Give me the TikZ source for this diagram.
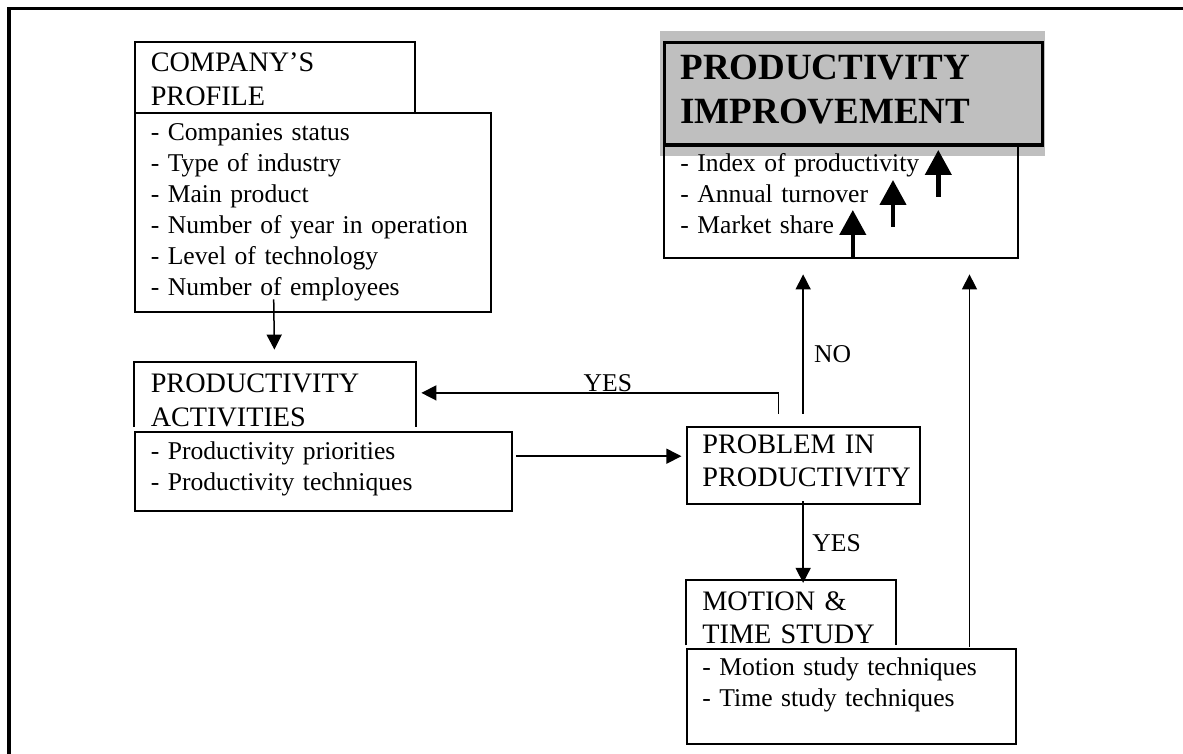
\documentclass[tikz,border=0pt]{standalone}
\usepackage{fontspec}
\setmainfont{Liberation Serif}
\usetikzlibrary{arrows.meta,fit,calc}

\tikzset{
  box/.style={draw, line width=1.1pt, inner sep=0pt, fit={#1}},
  area/.style={inner sep=0pt, fit={#1}},
  head/.style={anchor=base west, inner sep=0pt, align=left, text width=250pt,
    font=\fontsize{14.1}{16.7}\selectfont},
  list/.style={anchor=base west, inner sep=0pt, align=left, text width=250pt,
    font=\fontsize{12.8}{15.5}\selectfont},
  goal/.style={anchor=base west, inner sep=0pt, align=left, text width=250pt,
    font=\fontsize{18.5}{22.35}\selectfont\bfseries},
  arr/.style={-{Triangle[length=7.5pt,width=7.5pt]}, line width=0.75pt},
  bigarr/.style={-{Triangle[length=12.5pt,width=13pt]}, line width=2.2pt}
}

\begin{document}
\begin{tikzpicture}[x=0.5pt,y=-0.5pt]
  \useasboundingbox (0,0) rectangle (1183,754);
  % frame, open at right and bottom
  \draw[line width=1.8pt] (9,770) -- (9,8.5) -- (1200,8.5);

  % grey backdrop behind the goal
  \fill[gray!50] (659.5,31) rectangle (1045,155.7);

  % company profile
  \node[box={(134.7,42) (415.2,113.3)}] (profile) {};
  \node[box={(134.7,113.3) (490.6,311.7)}] (profdet) {};
  \node[head] (profile-t) at (150.4,71.7) {COMPANY'S\\PROFILE};
  \node[list] (profdet-t) at (150.4,140.7) {- Companies status\\- Type of industry\\
    - Main product\\- Number of year in operation\\- Level of technology\\
    - Number of employees};

  % productivity activities (title box left open below)
  \node[area={(134.7,362.7) (415.2,426.7)}] (acts) {};
  \draw[line width=1.1pt] (acts.south west) |- (acts.north east) -- (acts.south east);
  \node[box={(134.7,431.7) (512,510.7)}] (actsdet) {};
  \node[head] (acts-t) at (150.4,392.7) {PRODUCTIVITY\\ACTIVITIES};
  \node[list] (actsdet-t) at (150.4,459.3) {- Productivity priorities\\- Productivity techniques};

  % productivity improvement
  \node[box={(664.3,42.7) (1042.4,145)}, line width=1.7pt] (improve) {};
  \node[box={(664.3,145) (1018,258.3)}] (impdet) {};
  \node[goal] (improve-t) at (680,79.3) {PRODUCTIVITY\\IMPROVEMENT};
  \node[list] (impdet-t) at (680,171.7) {- Index of productivity\\- Annual turnover\\- Market share};
  \foreach \x/\a/\b in {852.8/258.3/210, 893/226.7/180, 938.3/196.7/150}
    \draw[bigarr] (\x,\a) -- (\x,\b);

  % problem in productivity
  \node[box={(686.6,427.3) (919.7,504.3)}] (problem) {};
  \node[head] (problem-t) at (702,453.3) {PROBLEM IN\\PRODUCTIVITY};

  % motion & time study (title box left open below)
  \node[area={(686.6,580.7) (895.5,645)}] (motion) {};
  \draw[line width=1.1pt] (motion.south west) |- (motion.north east) -- (motion.south east);
  \node[box={(686.6,649.3) (1015.6,744.3)}] (motdet) {};
  \node[head] (motion-t) at (702,610) {MOTION \&\\TIME STUDY};
  \node[list] (motdet-t) at (702,675) {- Motion study techniques\\- Time study techniques};

  % connectors
  \draw[arr] ([shift={(140.1,-13.4)}]profdet.south west) -- ([shift={(140.1,-12.7)}]acts.north west);
  \draw[arr] ([shift={(2.7,25.6)}]actsdet.north east) -- ([shift={(-4.1,30)}]problem.north west);
  \draw[arr] ([shift={(93,-12.3)}]problem.north west) |- ([shift={(5.8,30.6)}]acts.north east);
  \draw[arr] ($(problem.north)+(0,-12.3)$) -- ($(problem.north |- impdet.south)+(0,15)$);
  \draw[arr] ($(problem.south)+(0,-4.3)$) -- ($(problem.south |- motion.north)+(0,2.6)$);
  \coordinate (back) at ($(motdet.north west)+(284,-1.6)$);
  \draw[arr] (back) -- ($(back |- impdet.south)+(0,15)$);

  % branch labels
  \node[list] (yes-a) at (583.3,391.7) {YES};
  \node[list] (no) at (813.8,362) {NO};
  \node[list] (yes-b) at (812,551.7) {YES};
\end{tikzpicture}
\end{document}
